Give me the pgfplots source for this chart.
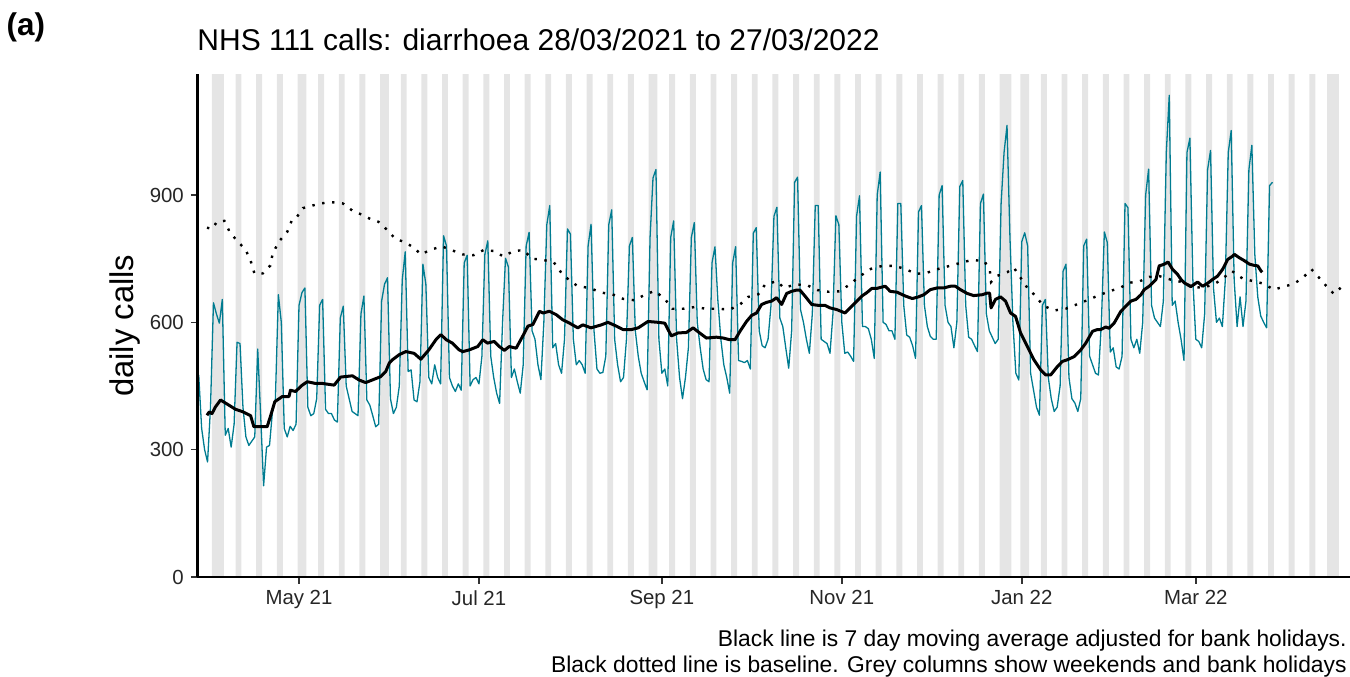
\documentclass[border=0pt]{standalone}
\usepackage{pgfplots}
\pgfplotsset{compat=1.18}
\usepackage{fontspec}
\setmainfont{Liberation Sans}
\definecolor{tealline}{HTML}{007C91}
\definecolor{greycol}{HTML}{E5E5E5}
\begin{document}
\begin{tikzpicture}
\begin{axis}[
  at={(0pt,0pt)}, anchor=south west,
  scale only axis, width=576.25pt, height=251.5pt,
  xmin=-0.41, xmax=390.27, ymin=0, ymax=1185,
  axis x line=bottom, axis y line=left,
  axis on top,
  axis line style={-, line width=1.1pt, black},
  tick align=outside, major tick length=3.3pt,
  tick style={black!80, line width=0.8pt},
  xtick={34,95,157,218,279,338},
  xticklabels={May 21,Jul 21,Sep 21,Nov 21,Jan 22,Mar 22},
  ytick={0,300,600,900},
  /pgf/number format/assume math mode=true,
  ticklabel style={font=\fontsize{10.2}{12}\selectfont, black!85},
  clip=true,
]
% grey columns: weekends and bank holidays
\addplot[ybar, bar width=1, bar shift=0pt, fill=greycol, draw=none] coordinates {
(5,1185)(6,1185)(7,1185)(8,1185)(13,1185)(14,1185)(20,1185)(21,1185)(27,1185)(28,1185)
(34,1185)(35,1185)(36,1185)(41,1185)(42,1185)(48,1185)(49,1185)(55,1185)(56,1185)
(62,1185)(63,1185)(64,1185)(69,1185)(70,1185)(76,1185)(77,1185)(83,1185)(84,1185)
(90,1185)(91,1185)(97,1185)(98,1185)(104,1185)(105,1185)(111,1185)(112,1185)
(118,1185)(119,1185)(125,1185)(126,1185)(132,1185)(133,1185)(139,1185)(140,1185)
(146,1185)(147,1185)(153,1185)(154,1185)(155,1185)(160,1185)(161,1185)(167,1185)(168,1185)
(174,1185)(175,1185)(181,1185)(182,1185)(188,1185)(189,1185)(195,1185)(196,1185)
(202,1185)(203,1185)(209,1185)(210,1185)(216,1185)(217,1185)(223,1185)(224,1185)
(230,1185)(231,1185)(237,1185)(238,1185)(244,1185)(245,1185)(251,1185)(252,1185)
(258,1185)(259,1185)(265,1185)(266,1185)(272,1185)(273,1185)(274,1185)(275,1185)
(279,1185)(280,1185)(281,1185)(286,1185)(287,1185)(293,1185)(294,1185)(300,1185)(301,1185)
(307,1185)(308,1185)(314,1185)(315,1185)(321,1185)(322,1185)(328,1185)(329,1185)
(335,1185)(336,1185)(342,1185)(343,1185)(349,1185)(350,1185)(356,1185)(357,1185)
(363,1185)(364,1185)(370,1185)(371,1185)(377,1185)(378,1185)(383,1185)(384,1185)(385,1185)(386,1185)
};
% daily calls
\addplot[tealline, line width=0.65pt, line join=round] coordinates {
(0,476)(1,350)(2,300)(3,271)(4,400)(5,646)(6,620)(7,598)(8,654)(9,334)
(10,350)(11,306)(12,360)(13,553)(14,550)(15,400)(16,330)(17,310)(18,320)(19,330)
(20,537)(21,380)(22,215)(23,306)(24,310)(25,390)(26,420)(27,665)(28,600)(29,350)
(30,330)(31,355)(32,345)(33,360)(34,640)(35,670)(36,681)(37,400)(38,380)(39,385)
(40,420)(41,640)(42,654)(43,395)(44,385)(45,385)(46,370)(47,365)(48,610)(49,638)
(50,450)(51,420)(52,390)(53,385)(54,380)(55,620)(56,662)(57,417)(58,405)(59,380)
(60,354)(61,360)(62,650)(63,690)(64,705)(65,420)(66,385)(67,400)(68,450)(69,700)
(70,766)(71,484)(72,488)(73,417)(74,413)(75,460)(76,737)(77,690)(78,470)(79,455)
(80,500)(81,470)(82,455)(83,804)(84,780)(85,470)(86,450)(87,437)(88,455)(89,440)
(90,740)(91,758)(92,450)(93,465)(94,470)(95,455)(96,520)(97,760)(98,792)(99,520)
(100,470)(101,433)(102,409)(103,600)(104,751)(105,730)(106,470)(107,490)(108,460)(109,433)
(110,500)(111,780)(112,812)(113,580)(114,560)(115,500)(116,465)(117,600)(118,830)(119,875)
(120,540)(121,550)(122,500)(123,480)(124,560)(125,820)(126,808)(127,560)(128,500)(129,510)
(130,500)(131,480)(132,780)(133,831)(134,580)(135,490)(136,480)(137,482)(138,520)(139,830)
(140,865)(141,560)(142,500)(143,460)(144,470)(145,560)(146,780)(147,800)(148,580)(149,520)
(150,480)(151,460)(152,441)(153,800)(154,940)(155,960)(156,560)(157,480)(158,490)(159,450)
(160,800)(161,839)(162,560)(163,470)(164,420)(165,470)(166,540)(167,800)(168,835)(169,600)
(170,540)(171,490)(172,465)(173,460)(174,740)(175,778)(176,650)(177,560)(178,500)(179,470)
(180,433)(181,740)(182,778)(183,510)(184,508)(185,505)(186,510)(187,490)(188,810)(189,823)
(190,580)(191,545)(192,540)(193,560)(194,640)(195,850)(196,871)(197,610)(198,590)(199,540)
(200,492)(201,580)(202,930)(203,942)(204,630)(205,600)(206,560)(207,527)(208,620)(209,875)
(210,875)(211,560)(212,555)(213,550)(214,527)(215,620)(216,851)(217,830)(218,600)(219,527)
(220,530)(221,520)(222,508)(223,850)(224,898)(225,590)(226,590)(227,585)(228,560)(229,515)
(230,900)(231,954)(232,600)(233,595)(234,580)(235,580)(236,560)(237,880)(238,880)(239,640)
(240,570)(241,565)(242,545)(243,515)(244,860)(245,875)(246,640)(247,590)(248,567)(249,560)
(250,560)(251,900)(252,922)(253,640)(254,600)(255,590)(256,540)(257,600)(258,920)(259,934)
(260,640)(261,565)(262,560)(263,545)(264,531)(265,880)(266,902)(267,620)(268,580)(269,565)
(270,550)(271,560)(272,880)(273,1000)(274,1064)(275,800)(276,600)(277,480)(278,464)(279,790)
(280,811)(281,780)(282,480)(283,440)(284,400)(285,381)(286,640)(287,654)(288,470)(289,420)
(290,390)(291,400)(292,450)(293,720)(294,737)(295,470)(296,420)(297,410)(298,390)(299,420)
(300,780)(301,796)(302,520)(303,500)(304,480)(305,476)(306,600)(307,813)(308,788)(309,530)
(310,540)(311,495)(312,490)(313,520)(314,880)(315,870)(316,560)(317,540)(318,560)(319,527)
(320,600)(321,900)(322,961)(323,640)(324,610)(325,600)(326,590)(327,650)(328,1000)(329,1135)
(330,640)(331,650)(332,600)(333,560)(334,510)(335,1000)(336,1034)(337,700)(338,560)(339,555)
(340,540)(341,620)(342,960)(343,1005)(344,680)(345,600)(346,610)(347,590)(348,700)(349,1000)
(350,1052)(351,700)(352,590)(353,660)(354,590)(355,650)(356,960)(357,1017)(358,760)(359,660)
(360,615)(361,600)(362,587)(363,922)(364,930)
};
% baseline (dotted)
\addplot[black, line width=1.2pt, dash pattern=on 1.2pt off 3.8pt] coordinates {
(2.8,823)(4.5,820)(6.2,837)(8.7,839)(10.5,813)(13,792)(15.9,771)(17.6,745)(18.9,715)(21.7,715)
(24.3,734)(25.1,763)(27.4,792)(30,813)(31.5,839)(32.8,843)(35.3,869)(38.5,875)(41.1,880)(45,883)
(48.9,880)(52.1,863)(55.5,853)(58.3,843)(60.9,837)(64,817)(66.6,797)(69.4,790)(73,776)(75.3,760)
(78.7,771)(82.4,779)(85.8,770)(89.5,760)(93.1,758)(96.5,770)(100.2,768)(103.3,755)(106.7,768)(110.1,770)
(113,750)(116.7,747)(120.3,742)(122.9,717)(125.5,700)(128.5,685)(132.5,681)(136.5,670)(140.2,666)(144,655)
(147.8,652)(151.5,666)(154.6,674)(158,655)(160.6,632)(164.2,632)(168.2,636)(171.9,632)(176.1,632)(180,630)
(183.5,642)(186.3,660)(189.7,666)(192,689)(196,697)(198.4,681)(202.1,689)(206.1,688)(209.7,676)(213.5,672)
(217.4,673)(220.6,689)(224.2,709)(227.9,726)(231.8,733)(235.6,733)(239.5,726)(243.1,714)(246.9,717)(250.8,726)
(254.6,733)(258.2,740)(262.2,747)(266.4,744)(268.2,721)(268.6,695)(270.5,709)(274.1,718)(276.3,729)(278.6,705)
(280.9,681)(283.7,662)(286.3,639)(290.1,628)(293.9,632)(297.6,642)(301.2,652)(304.9,663)(308.6,673)(312.3,681)
(315.4,693)(319.1,697)(322.2,707)(325.6,709)(329.3,701)(333.2,695)(336.7,685)(340,681)(344.1,689)(347.1,703)
(350.2,721)(353.9,703)(357.5,697)(361,691)(364.4,677)(367.9,684)(371.3,691)(374.3,705)(377.2,725)(379.8,705)
(382.3,685)(384.8,667)(387.7,685)(389,688)
};
% 7 day moving average
\addplot[black, line width=1.5pt, line join=round] coordinates {
(2.8,381)(3.6,389)(4.5,385)(5.7,401)(7.4,417)(10.2,405)(12.5,395)(14.7,390)(17.6,380)(18.7,354)
(23.2,354)(24.3,378)(25.8,413)(28.3,425)(30.6,425)(31.1,440)(32.8,437)(35.1,452)(36.8,460)(39.6,456)
(41.9,456)(45.9,452)(48.1,471)(52.1,474)(54.4,464)(56.6,458)(59.5,466)(61.7,472)(63.4,484)(64.6,504)
(65.7,512)(68,524)(70.2,531)(73,527)(75.3,513)(78,535)(80.4,559)(82.1,571)(83.9,559)(86,551)
(88.3,535)(89.5,531)(91.7,535)(94.6,543)(96.3,559)(97.9,551)(100.2,555)(101.9,543)(103.6,534)(105.3,543)
(107.6,539)(109.8,567)(111.6,591)(113.3,595)(115.5,626)(116.7,622)(118.9,626)(121.2,618)(123.4,606)(125.7,598)
(128.5,587)(130.2,594)(133,587)(136.5,594)(138.7,600)(141.6,591)(143.8,583)(146.7,583)(149,587)(152.3,602)
(155.7,600)(158,598)(160.2,568)(162.5,575)(165.3,576)(167.6,587)(169.8,575)(172.1,563)(175.5,565)(177.8,563)
(180,559)(181.8,559)(183.5,579)(185.7,602)(187.4,616)(189.1,622)(190.8,642)(192.5,647)(194.2,650)(195.9,658)
(197.6,642)(199.3,668)(201,673)(202.7,676)(203.8,676)(205.5,662)(207.8,642)(210,640)(212.3,640)(214,634)
(216.3,630)(219.1,622)(220.8,634)(223.1,650)(224.8,662)(226.5,670)(228.2,680)(229.9,680)(232.7,685)(234.4,673)
(236.7,671)(239.5,662)(241.9,656)(244,660)(245.8,665)(248,677)(250.3,681)(252.5,681)(254.8,685)(256.5,685)
(258.2,677)(260.5,668)(262.7,663)(265.6,665)(267.3,669)(268.1,669)(268.6,634)(270.1,654)(271.8,660)(273.5,650)
(275.2,622)(276.9,614)(278.6,575)(280.9,543)(283.1,512)(285.4,488)(287.1,476)(288.8,476)(291.1,496)(292.8,508)
(294.5,512)(296.7,519)(299,535)(300.7,551)(303,579)(304.7,583)(305.8,583)(307.5,589)(308.6,586)(310.3,598)
(312.6,626)(314.3,638)(316,650)(317.7,654)(319.4,665)(320.5,677)(322.2,685)(324.5,701)(325.6,733)(327.3,737)
(328.6,742)(330.1,725)(331.8,713)(333,701)(334.1,693)(336.3,684)(338.6,695)(340.3,685)(342,692)(343.7,701)
(345.4,709)(347.1,725)(348.8,748)(350.5,756)(351.1,760)(352.8,752)(354.5,745)(356.2,737)(357.9,734)(359,733)
(360.1,721)(360.5,718)
};
\end{axis}
% texts
\node[anchor=base west, inner sep=0pt, font=\bfseries\fontsize{15.7}{18}\selectfont] at (-95.6pt,270.5pt) {(a)};
\node[anchor=base west, inner sep=0pt, font=\fontsize{15}{18}\selectfont] at (-0.2pt,263.2pt) {NHS 111 calls: diarrhoea 28/03/2021 to 27/03/2022};
\node[anchor=base, rotate=90, inner sep=0pt, font=\fontsize{16.4}{19}\selectfont] at (-32.1pt,125.6pt) {daily calls};
\node[anchor=base east, inner sep=0pt, font=\fontsize{11.4}{13}\selectfont] at (574.75pt,-34.5pt) {Black line is 7 day moving average adjusted for bank holidays.};
\node[anchor=base east, inner sep=0pt, font=\fontsize{11.4}{13}\selectfont] at (574.75pt,-47.5pt) {Black dotted line is baseline. Grey columns show weekends and bank holidays};
\pgfresetboundingbox
\path[use as bounding box] (-98.75pt,-49.5pt) rectangle (576.25pt,288.5pt);
\end{tikzpicture}
\end{document}
